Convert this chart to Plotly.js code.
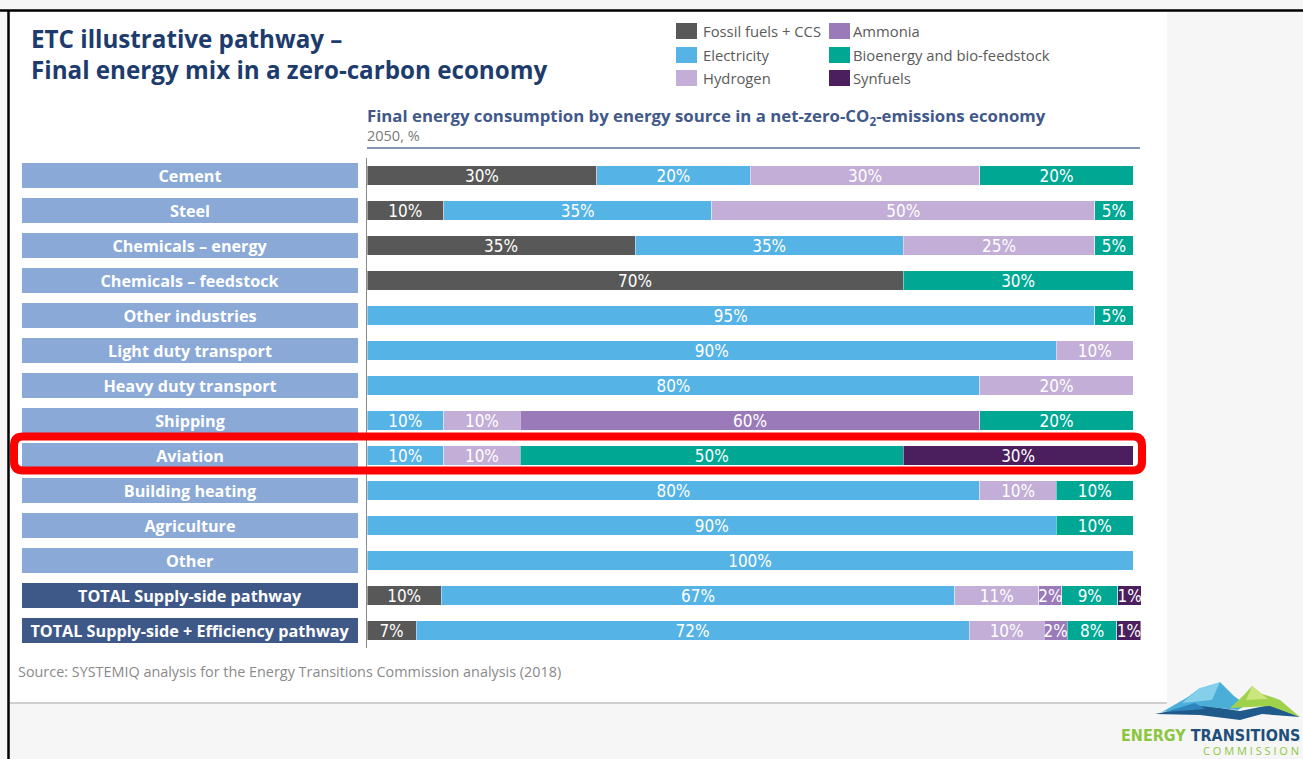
<!DOCTYPE html>
<html><head><meta charset="utf-8">
<script src="https://cdn.plot.ly/plotly-3.0.1.min.js"></script>
<style>html,body{margin:0;padding:0;background:#f6f6f6;overflow:hidden}#chart{width:1303px;height:759px}</style>
</head><body><div id="chart"></div>
<script>
// ---------- data ----------
const categories = ['Cement','Steel','Chemicals – energy','Chemicals – feedstock','Other industries',
  'Light duty transport','Heavy duty transport','Shipping','Aviation','Building heating',
  'Agriculture','Other','TOTAL Supply-side pathway','TOTAL Supply-side + Efficiency pathway'];
const isTotal = [0,0,0,0,0,0,0,0,0,0,0,0,1,1];

const seriesNames  = ['Fossil fuels + CCS','Electricity','Hydrogen','Ammonia','Bioenergy and bio-feedstock','Synfuels'];
const seriesColors = ['#585858','#55b3e6','#c2aed6','#9b7ab9','#00a894','#4b1f5e'];

// drawn bar widths (% of final energy)
const fossil      = [30,10,35,70,null,null,null,null,null,null,null,null,9.7,6.4];
const electricity = [20,35,35,null,95,90,80,10,10,80,90,100,67.0,72.2];
const hydrogen    = [30,50,25,null,null,10,20,10,10,10,null,null,11.0,9.8];
const ammonia     = [null,null,null,null,null,null,null,60,null,null,null,null,3.0,3.0];
const bioenergy   = [20,5,5,30,5,null,null,20,50,10,10,null,7.3,6.5];
const synfuels    = [null,null,null,null,null,null,null,null,30,null,null,null,3.1,3.1];

// printed percentage labels
const fossilLbl      = [30,10,35,70,null,null,null,null,null,null,null,null,10,7];
const electricityLbl = [20,35,35,null,95,90,80,10,10,80,90,100,67,72];
const hydrogenLbl    = [30,50,25,null,null,10,20,10,10,10,null,null,11,10];
const ammoniaLbl     = [null,null,null,null,null,null,null,60,null,null,null,null,2,2];
const bioenergyLbl   = [20,5,5,30,5,null,null,20,50,10,10,null,9,8];
const synfuelsLbl    = [null,null,null,null,null,null,null,null,30,null,null,null,1,1];

const seriesValues = [fossil, electricity, hydrogen, ammonia, bioenergy, synfuels];
const seriesLabels = [fossilLbl, electricityLbl, hydrogenLbl, ammoniaLbl, bioenergyLbl, synfuelsLbl];

// ---------- layout helpers (pixel -> paper) ----------
const W = 1303, H = 759, ML = 22, MR = 162, MT = 158, MB = 111;
const PW = W - ML - MR, PH = H - MT - MB;
const X = px => (px - ML) / PW;
const Y = py => (H - MB - py) / PH;
const pathPx = pts => 'M' + pts.map(p => X(p[0]).toFixed(5) + ',' + Y(p[1]).toFixed(5)).join(' L') + ' Z';

const pctFont = {family:'"Liberation Sans Narrow","DejaVu Sans Condensed","Roboto",sans-serif', size:17, color:'#ffffff'};
const mainFont = '"Open Sans", Lato, sans-serif';

// ---------- traces ----------
const traces = [];
// category label boxes on the left
traces.push({
  type:'bar', orientation:'h', xaxis:'x2', yaxis:'y',
  y: categories, x: categories.map(() => 1), width: 0.72,
  marker:{color: isTotal.map(t => t ? '#3e5888' : '#8aa9d7'), line:{width:0}},
  text: categories.map(c => '<b>' + c + '</b>'),
  textposition:'inside', insidetextanchor:'middle', textangle:0, constraintext:'none',
  textfont:{family:mainFont, size:16.2, color:'#ffffff'},
  hoverinfo:'skip', showlegend:false
});
seriesNames.forEach((name, i) => {
  const vals = seriesValues[i], lbls = seriesLabels[i];
  traces.push({
    type:'bar', orientation:'h', name: name, xaxis:'x', yaxis:'y',
    y: categories, x: vals, width: 0.57,
    marker:{color: seriesColors[i], line:{width:0.8, color:'rgba(255,255,255,0.55)'}},
    text: lbls.map(v => v === null ? ' ' : v + '%'),
    textposition:'inside', insidetextanchor:'middle', textangle:0, constraintext:'none',
    textfont: pctFont, showlegend:false, hoverinfo:'skip'
  });
});

// ---------- shapes ----------
const shapes = [];
// slide background
shapes.push({type:'rect', xref:'paper', yref:'paper', x0:X(8), x1:X(1167), y0:Y(12), y1:Y(703), fillcolor:'#ffffff', line:{width:0}, layer:'below'});
shapes.push({type:'line', xref:'paper', yref:'paper', x0:X(8), x1:X(1167), y0:Y(703), y1:Y(703), line:{color:'#cfcfcf', width:2}, layer:'below'});
shapes.push({type:'line', xref:'paper', yref:'paper', x0:X(0), x1:X(1303), y0:Y(10.5), y1:Y(10.5), line:{color:'#000000', width:2.5}});
shapes.push({type:'line', xref:'paper', yref:'paper', x0:X(8.5), x1:X(8.5), y0:Y(10), y1:Y(759), line:{color:'#000000', width:2.5}});
// subtitle rule
shapes.push({type:'line', xref:'paper', yref:'paper', x0:X(367), x1:X(1140), y0:Y(148), y1:Y(148), line:{color:'#8494b6', width:2}});
// legend swatches
const legCols = [[676, 703], [829, 853]];
const legRows = [31, 55, 78];
seriesNames.forEach((n, i) => {
  const c = legCols[Math.floor(i / 3)], r = legRows[i % 3];
  shapes.push({type:'rect', xref:'paper', yref:'paper', x0:X(c[0]), x1:X(c[0] + 21), y0:Y(r - 8), y1:Y(r + 8), fillcolor:seriesColors[i], line:{width:0}});
});
// red highlight around Aviation
const aIdx = categories.indexOf('Aviation');
{
  const xl = X(14), xr = X(1142), yt = aIdx - 19/35, yb = aIdx + 15/35, rx = 9/PW, ry = 9/35;
  shapes.push({type:'path', xref:'paper', yref:'y', line:{color:'#ff0000', width:8},
    path:`M${xl+rx},${yt} L${xr-rx},${yt} Q${xr},${yt} ${xr},${yt+ry} L${xr},${yb-ry} Q${xr},${yb} ${xr-rx},${yb} L${xl+rx},${yb} Q${xl},${yb} ${xl},${yb-ry} L${xl},${yt+ry} Q${xl},${yt} ${xl+rx},${yt} Z`});
}
// logo mountains
const logoPolys = [
  {c:'#1f5a8a', p:[[1155,714],[1200,705],[1240,711],[1270,705],[1300,717],[1262,714],[1240,720],[1200,715]]},
  {c:'#4aaed8', p:[[1162,712],[1188,697],[1200,688],[1210,692],[1220,682],[1234,696],[1246,705],[1238,710],[1200,706]]},
  {c:'#86cfea', p:[[1182,703],[1200,688],[1220,682],[1212,700]]},
  {c:'#2f86bf', p:[[1165,712],[1195,703],[1205,709]]},
  {c:'#9fd14a', p:[[1230,708],[1244,695],[1252,686],[1262,694],[1272,697],[1280,700],[1300,717],[1270,706]]},
  {c:'#cbe67c', p:[[1246,700],[1252,686],[1268,699]]}
];
logoPolys.forEach(o => shapes.push({type:'path', xref:'paper', yref:'paper', path:pathPx(o.p), fillcolor:o.c, line:{width:0}}));

// ---------- annotations ----------
const ann = [];
const A = (px, py, text, font, extra) => ann.push(Object.assign({xref:'paper', yref:'paper', x:X(px), y:Y(py), text, showarrow:false, xanchor:'left', yanchor:'middle', font, align:'left'}, extra || {}));
A(29, 54, '<b>ETC illustrative pathway –<br>Final energy mix in a zero-carbon economy</b>', {family:mainFont, size:24.2, color:'#1d3c6d'});
A(365, 116, '<b>Final energy consumption by energy source in a net-zero-CO<sub>2</sub>-emissions economy</b>', {family:mainFont, size:16.8, color:'#41588a'});
A(365, 135, '2050, %', {family:mainFont, size:14.5, color:'#7a7a7a'});
seriesNames.forEach((n, i) => {
  const c = legCols[Math.floor(i / 3)], r = legRows[i % 3];
  A(c[1] - 2, r, n, {family:mainFont, size:14.8, color:'#5a5a5a'});
});
A(16, 671, 'Source: SYSTEMIQ analysis for the Energy Transitions Commission analysis (2018)', {family:mainFont, size:14.4, color:'#8a8a8a'});
A(1302, 735, '<b><span style="color:#8cc63f">ENERGY</span> TRANSITIONS</b>', {family:'"Liberation Sans Narrow","DejaVu Sans Condensed","Roboto",sans-serif', size:16, color:'#1f4e7a'}, {xanchor:'right'});
A(1301, 750, 'C O M M I S S I O N', {family:mainFont, size:11, color:'#8cc63f'}, {xanchor:'right'});

const layout = {
  width:W, height:H, margin:{l:ML, r:MR, t:MT, b:MB, pad:0},
  paper_bgcolor:'#f6f6f6', plot_bgcolor:'rgba(0,0,0,0)',
  barmode:'stack', bargap:0.43, showlegend:false, hovermode:false,
  xaxis:{domain:[X(367), 1], range:[0, 101.04], visible:false, fixedrange:true, anchor:'y'},
  xaxis2:{domain:[0, X(358)], range:[0, 1], visible:false, fixedrange:true, anchor:'y'},
  yaxis:{type:'category', categoryorder:'array', categoryarray:categories,
    range:[categories.length - 0.5, -0.5], showticklabels:false, showgrid:false, zeroline:false,
    ticks:'', showline:true, linecolor:'#8a8a8a', linewidth:1.5, fixedrange:true, anchor:'x'},
  shapes, annotations:ann
};
Plotly.newPlot('chart', traces, layout, {displayModeBar:false, staticPlot:true});
</script>
</body></html>
